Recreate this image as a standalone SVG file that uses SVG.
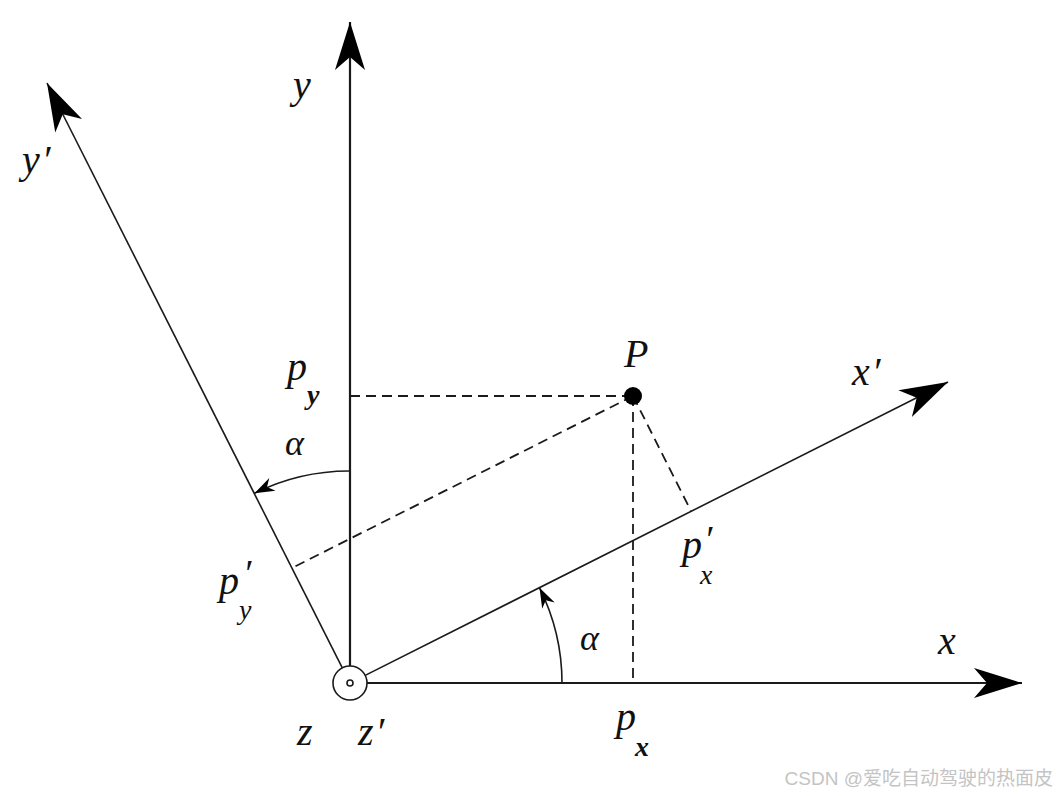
<svg xmlns="http://www.w3.org/2000/svg" width="1056" height="796" viewBox="0 0 1056 796">
<style>
.ax{stroke:#1a1a1a;stroke-width:2.2;fill:none}
.axt{stroke:#1a1a1a;stroke-width:1.6;fill:none}
.ds{stroke:#1a1a1a;stroke-width:1.8;fill:none;stroke-dasharray:10,6}
.arc{stroke:#1a1a1a;stroke-width:1.6;fill:none}
.m{font-family:"Liberation Serif","DejaVu Serif",serif;font-style:italic;fill:#111;font-size:40px}
.s{font-size:28px}
.pr{font-size:38px}
.b{font-weight:bold}
.wm{font-family:"Liberation Sans","Noto Sans CJK SC",sans-serif;font-size:19px;fill:#c4c4c4}
</style>
<defs>
<marker id="big" viewBox="-50 -17 52 34" refX="0" refY="0" markerWidth="52" markerHeight="34" markerUnits="userSpaceOnUse" orient="auto">
<path d="M0,0 L-48,-15 L-35,0 L-48,15 Z" fill="#000"/>
</marker>
<marker id="small" viewBox="-22 -9 24 18" refX="0" refY="0" markerWidth="24" markerHeight="18" markerUnits="userSpaceOnUse" orient="auto">
<path d="M0,0 L-20,-7 L-14,0 L-20,7 Z" fill="#000"/>
</marker>
</defs>
<rect width="1056" height="796" fill="#fff"/>
<g id="connectors">
<line class="ax" x1="367" y1="683" x2="1022" y2="683" marker-end="url(#big)"/>
<line class="ax" x1="350" y1="666" x2="350" y2="22" marker-end="url(#big)"/>
<line class="axt" x1="365.2" y1="675.4" x2="948" y2="382" marker-end="url(#big)"/>
<line class="axt" x1="342.3" y1="667.8" x2="47" y2="83" marker-end="url(#big)"/>
<line class="ds" x1="350" y1="396" x2="633" y2="396"/>
<line class="ds" x1="633" y1="396" x2="633" y2="683"/>
<line class="ds" x1="633" y1="396" x2="691" y2="511"/>
<line class="ds" x1="633" y1="396" x2="292" y2="568"/>
<path class="arc" d="M350,471 A212,212 0 0 0 254.5,493.3" marker-end="url(#small)"/>
<path class="arc" d="M562,683 A212,212 0 0 0 539.5,587.8" marker-end="url(#small)"/>
</g>
<g id="origin">
<circle cx="350" cy="683" r="17" fill="#fff" stroke="#1a1a1a" stroke-width="1.6"/>
<circle cx="350" cy="683" r="3" fill="none" stroke="#1a1a1a" stroke-width="1.6"/>
</g>
<g id="point-P">
<circle cx="633" cy="396" r="9" fill="#000"/>
<text class="m" x="624" y="367">P</text>
</g>
<g id="labels">
<text class="m" x="293" y="98">y</text>
<text class="m" x="22" y="173">y<tspan dx="2">′</tspan></text>
<text class="m" x="852" y="385">x<tspan dx="2">′</tspan></text>
<text class="m" x="938" y="654">x</text>
<text class="m" x="287" y="380">p</text>
<text class="m s b" x="307" y="404">y</text>
<text class="m" x="285" y="455" style="font-size:36px">α</text>
<text class="m" x="219" y="594">p</text>
<text class="m pr" x="243" y="586">′</text>
<text class="m s" x="239" y="619">y</text>
<text class="m" x="682" y="558">p</text>
<text class="m pr" x="704" y="552">′</text>
<text class="m s" x="700" y="584">x</text>
<text class="m" x="580" y="650" style="font-size:36px">α</text>
<text class="m" x="297" y="745">z</text>
<text class="m" x="358" y="745">z<tspan dx="2">′</tspan></text>
<text class="m" x="616" y="730">p</text>
<text class="m s b" x="635" y="756">x</text>
</g>
<text class="wm" x="1053" y="785" text-anchor="end">CSDN @爱吃自动驾驶的热面皮</text>
</svg>
